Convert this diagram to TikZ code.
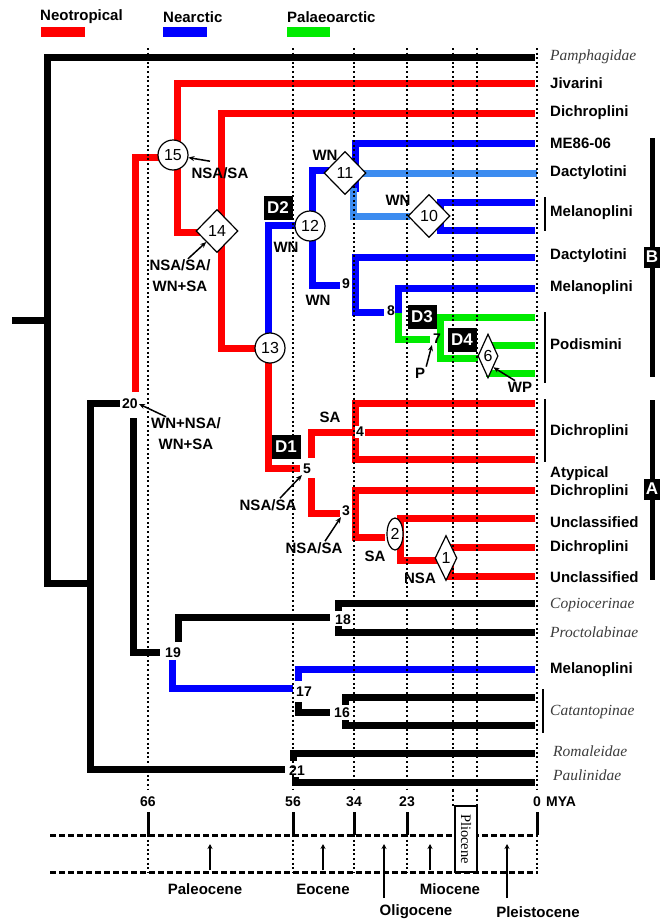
\documentclass[tikz,border=0pt]{standalone}
\usepackage{fontspec}
\setmainfont{Liberation Serif}
\setsansfont{Liberation Sans}
\usetikzlibrary{shapes.geometric,arrows.meta}
\definecolor{neo}{RGB}{255,0,0}
\definecolor{nea}{RGB}{0,0,255}
\definecolor{nealt}{RGB}{60,140,240}
\definecolor{pal}{RGB}{0,235,0}
\definecolor{taxgray}{RGB}{60,60,60}
\tikzset{
  br/.style={line width=7pt},
  dots/.style={line width=2pt, dash pattern=on 2pt off 2.6pt},
  timeline/.style={line width=3pt, dash pattern=on 6pt off 3pt},
  mtick/.style={line width=3pt},
  tip/.style={anchor=west, inner sep=1pt, font=\fontsize{15}{17}\selectfont\sffamily\bfseries},
  taxon/.style={anchor=west, inner sep=1pt, text=taxgray, font=\fontsize{15.5}{17}\selectfont\itshape},
  num/.style={inner sep=1pt, font=\fontsize{14}{15}\selectfont\sffamily\bfseries},
  ann/.style={inner sep=1pt, align=center, font=\fontsize{15}{21}\selectfont\sffamily\bfseries},
  circ/.style={circle, draw, fill=white, line width=1.2pt, minimum size=30pt, inner sep=0pt, font=\fontsize{16}{17}\selectfont\sffamily},
  diam/.style={diamond, draw, fill=white, line width=1.2pt, minimum width=42pt, minimum height=43pt, inner sep=0pt, font=\fontsize{16}{17}\selectfont\sffamily},
  dbox/.style={fill=black, text=white, inner sep=1.5pt, minimum width=29pt, minimum height=24pt, font=\fontsize{17}{18}\selectfont\sffamily\bfseries},
  arr/.style={line width=1.5pt, -{Stealth[length=6pt,width=5pt]}},
  epar/.style={line width=1.2pt, -{Stealth[length=5pt,width=5pt]}},
}
\begin{document}
\begin{tikzpicture}[x=1pt,y=-1pt]
\useasboundingbox (0,0) rectangle (659,921);

% legend
\node[tip] (legneo) at (39,17) {Neotropical};
\node[tip] (legnea) at (162,17) {Nearctic};
\node[tip] (legpal) at (286,17) {Palaeoarctic};
\fill[neo] (41,27) rectangle (85,37);
\fill[nea] (163,27) rectangle (207,37);
\fill[pal] (287,27) rectangle (330,37);

% black backbone
\draw[br] (12,320) -- (47,320);
\draw[br] (535,57) -| (47,583) -- (90,583);
\draw[br] (120,403) -| (90,769) -- (285,769);
\draw[br] (133,418) |- (160,652);
\draw[br] (178,642) |- (330,617);
\draw[br] (535,603) -| (338,611);
\draw[br] (338,626) |- (535,632);
\draw[br] (298,702) |- (330,712);
\draw[br] (535,697) -| (345,705);
\draw[br] (345,720) |- (535,725);
\draw[br] (535,753) -| (293,761);
\draw[br] (295,777) |- (535,782);

% neotropical
\draw[br,neo] (135,392) |- (160,157);
\draw[br,neo] (535,83) -| (177,232) -- (200,232);
\draw[br,neo] (535,113) -| (221,348) -- (258,348);
\draw[br,neo] (268,362) |- (300,468);
\draw[br,neo] (355,432) -| (311,458);
\draw[br,neo] (311,478) |- (340,513);
\draw[br,neo] (535,403) -| (355,459) -- (535,459);
\draw[br,neo] (355,432) -- (535,432);
\draw[br,neo] (535,490) -| (355,537) -- (385,537);
\draw[br,neo] (535,518) -| (400,560) -- (437,560);
\draw[br,neo] (535,547) -| (450,576) -- (535,576);

% nearctic
\draw[br,nea] (268,335) |- (298,225);
\draw[br,nea] (312,212) |- (330,170);
\draw[br,nea] (312,240) |- (340,285);
\draw[br,nea] (535,143) -| (355,192);
\draw[br,nealt] (355,173) -- (537,173);
\draw[br,nealt] (353,188) |- (410,216);
\draw[br,nea] (535,202) -| (440,230) -- (535,230);
\draw[br,nea] (535,257) -| (355,312) -- (384,312);
\draw[br,nea] (535,288) -| (398,314);
\draw[br,nea] (172,660) |- (293,688);
\draw[br,nea] (298,681) |- (535,669);

% palaeoarctic
\draw[br,pal] (398,313) |- (430,339);
\draw[br,pal] (535,317) -| (440,358) -- (478,358);
\draw[br,pal] (486,345) -- (535,345);
\draw[br,pal] (486,373) -- (535,373);

% time lines
\foreach \t in {148,293,354,407,453,477,537}
  \draw[dots] (\t,48) -- (\t,790);
\foreach \t in {453,477}
  \draw[dots] (\t,790) -- (\t,806);
\foreach \t in {148,293,354,407,537}{
  \draw[dots] (\t,835) -- (\t,872);
  \draw[mtick] (\t,812) -- (\t,835);
}
\draw[timeline] (50,835) -- (538,835);
\draw[timeline] (50,872) -- (538,872);
\node[draw, fill=white, line width=2pt, rotate=-90, minimum width=66pt, minimum height=22pt, inner sep=0pt,
  font=\fontsize{14.5}{15}\selectfont] (plio) at (466,839) {Pliocene};

\node[num] (m66) at (148,802) {66};
\node[num] (m56) at (293,802) {56};
\node[num] (m34) at (354,802) {34};
\node[num] (m23) at (407,802) {23};
\node[num] (m0) at (537,802) {0};
\node[num, anchor=west] (mya) at (545,802) {MYA};

% epochs
\node[ann] (paleo) at (205,889) {Paleocene};
\node[ann] (eoc) at (323,889) {Eocene};
\node[ann] (olig) at (416,912) {Oligocene};
\node[ann] (mioc) at (450,889) {Miocene};
\node[ann] (pleis) at (538,912) {Pleistocene};
\draw[epar] (210,870) -- (210,844);
\draw[epar] (323,870) -- (323,844);
\draw[epar] (384,898) -- (384,844);
\draw[epar] (430,870) -- (430,844);
\draw[epar] (507,898) -- (507,844);

% node markers
\node[num] (n20) at (130,404) {20};
\node[num] (n19) at (173,653) {19};
\node[num] (n18) at (343,620) {18};
\node[num] (n17) at (304,692) {17};
\node[num] (n16) at (342,713) {16};
\node[num] (n21) at (297,771) {21};
\node[num, fill=white] (n9) at (346,284) {9};
\node[num] (n8) at (391,311) {8};
\node[num] (n7) at (437,339) {7};
\node[num, fill=white] (n5) at (307,469) {5};
\node[num, fill=white] (n4) at (360,432) {4};
\node[num, fill=white] (n3) at (346,511) {3};
\node[circ] (n15) at (173,155) {15};
\node[circ] (n13) at (270,348) {13};
\node[circ] (n12) at (310,226) {12};
\node[diam] (n14) at (217,231) {14};
\node[diam] (n11) at (345,173) {11};
\node[diam] (n10) at (429,216) {10};
\node[diam, minimum width=20pt, minimum height=44pt] (n6) at (488,356) {6};
\node[diam, minimum width=22pt, minimum height=45pt] (n1) at (446,558) {1};
\node[ellipse, draw, fill=white, line width=1.2pt, minimum width=16pt, minimum height=32pt, inner sep=0pt,
  font=\fontsize{16}{17}\selectfont\sffamily] (n2) at (395,534) {2};
\node[dbox] (d1) at (286,447) {D1};
\node[dbox] (d2) at (278,208) {D2};
\node[dbox] (d3) at (422,317) {D3};
\node[dbox] (d4) at (462,340) {D4};

% dispersal annotations
\node[ann] (a15) at (220,173) {NSA/SA};
\node[ann] (a14) at (180,276) {NSA/SA/\\WN+SA};
\node[ann] (a20) at (186,434) {WN+NSA/\\WN+SA};
\node[ann] (a5) at (268,505) {NSA/SA};
\node[ann] (a3) at (314,548) {NSA/SA};
\node[ann] (a7) at (420,373) {P};
\node[ann] (a6) at (520,387) {WP};
\node[ann] (w11) at (325,155) {WN};
\node[ann] (w12) at (286,247) {WN};
\node[ann] (w9) at (318,300) {WN};
\node[ann] (w10) at (398,200) {WN};
\node[ann] (s4) at (330,417) {SA};
\node[ann] (s2) at (375,556) {SA};
\node[ann] (s1) at (420,578) {NSA};
\draw[arr] ([xshift=-10pt,yshift=5pt]a15.north) -- (n15);
\draw[arr] ([xshift=8pt]a14.north) -- (n14.south west);
\draw[arr] ([xshift=-20pt]a20.north) -- (n20.east);
\draw[arr] ([xshift=12pt]a5.north) -- (n5.south west);
\draw[arr] ([xshift=11pt]a3.north) -- (n3.south west);
\draw[arr] (a7.north east) -- (n7.south west);
\draw[arr] ([xshift=-5pt]a6.north) -- (n6.south east);

% tips
\node[taxon] (t1) at (549,57) {Pamphagidae};
\node[tip] (t2) at (549,83) {Jivarini};
\node[tip] (t3) at (549,113) {Dichroplini};
\node[tip] (t4) at (549,143) {ME86-06};
\node[tip] (t5) at (549,173) {Dactylotini};
\node[tip] (t6) at (549,213) {Melanoplini};
\node[tip] (t7) at (549,256) {Dactylotini};
\node[tip] (t8) at (549,288) {Melanoplini};
\node[tip] (t9) at (549,344) {Podismini};
\node[tip] (t10) at (549,432) {Dichroplini};
\node[tip, align=left, font=\fontsize{15}{18}\selectfont\sffamily\bfseries] (t11) at (549,483) {Atypical\\Dichroplini};
\node[tip] (t12) at (549,522) {Unclassified};
\node[tip] (t13) at (549,548) {Dichroplini};
\node[tip] (t14) at (549,577) {Unclassified};
\node[taxon] (t15) at (549,605) {Copiocerinae};
\node[taxon] (t16) at (549,632) {Proctolabinae};
\node[tip] (t17) at (549,670) {Melanoplini};
\node[taxon] (t18) at (549,712) {Catantopinae};
\node[taxon] (t19) at (552,751) {Romaleidae};
\node[taxon] (t20) at (552,775) {Paulinidae};

% brackets
\draw[line width=2.5pt] (545,197) -- (545,231);
\draw[line width=2.5pt] (545,312) -- (545,383);
\draw[line width=2.5pt] (545,399) -- (545,462);
\draw[line width=2.5pt] (543,689) -- (543,733);
\draw[line width=5pt] (652,138) -- (652,377);
\draw[line width=5pt] (652,400) -- (652,580);
\node[dbox, minimum width=17pt, minimum height=21pt] (cb) at (652,257) {B};
\node[dbox, minimum width=17pt, minimum height=21pt] (ca) at (652,489) {A};
\end{tikzpicture}
\end{document}
